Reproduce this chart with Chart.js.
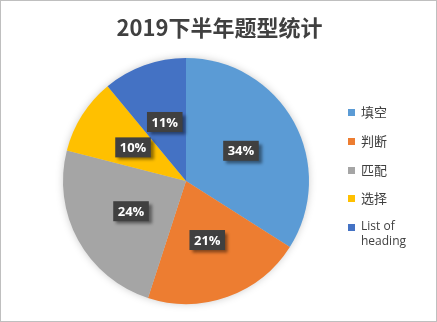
<!DOCTYPE html>
<html>
<head>
<meta charset="utf-8">
<script src="https://cdn.jsdelivr.net/npm/chart.js@4"></script>
<style>
  html, body { margin: 0; padding: 0; background: #fff; }
  #box {
    position: relative; width: 437px; height: 322px;
    box-sizing: border-box; border: 1px solid #bfbfbf; overflow: hidden;
  }
  #chart { position: absolute; left: 0; top: 0; }
  #title {
    position: absolute; left: 0; top: 9px; width: 437px; text-align: center;
    font: bold 22px "Noto Sans CJK SC", sans-serif; color: #404040;
  }
  #legend { position: absolute; left: 347px; top: 100px; width: 80px; }
  .item { position: absolute; left: 0; font: 13px "Noto Sans CJK SC", sans-serif; color: #404040; }
  .item .sw { position: absolute; left: 0; top: 6px; width: 7px; height: 7px; }
  .item .tx { margin-left: 13px; line-height: 17px; width: 62px; display: block; }
  .item .latin { font: 12px "Open Sans", sans-serif; line-height: 15px; }
</style>
</head>
<body>
<div id="box">
  <canvas id="chart" width="437" height="322"></canvas>
  <div id="title">2019下半年题型统计</div>
  <div id="legend"></div>
</div>
<script>
// chart values
const categories = ['填空', '判断', '匹配', '选择', 'List of heading'];
const shares = [34, 21, 24, 10, 11];
const colors = ['#5B9BD5', '#ED7D31', '#A5A5A5', '#FFC000', '#4472C4'];

// legend built from the same arrays
const legendTops = [2, 31, 60, 88, 117];
const legend = document.getElementById('legend');
categories.forEach((name, i) => {
    const item = document.createElement('div');
    item.className = 'item';
    item.style.top = legendTops[i] + 'px';
    const isLatin = /^[\x00-\x7f]+$/.test(name);
    item.innerHTML = '<span class="sw" style="background:' + colors[i] + '"></span>' +
        '<span class="tx' + (isLatin ? ' latin' : '') + '">' + name + '</span>';
    legend.appendChild(item);
});

// soft shadow behind the pie
const pieShadow = {
    id: 'pieShadow',
    beforeDatasetsDraw(chart) {
        const arc = chart.getDatasetMeta(0).data[0];
        if (!arc) return;
        const ctx = chart.ctx;
        ctx.save();
        ctx.shadowColor = 'rgba(0,0,0,0.25)';
        ctx.shadowBlur = 8;
        ctx.beginPath();
        ctx.arc(arc.x, arc.y, arc.outerRadius - 1, 0, Math.PI * 2);
        ctx.fillStyle = '#ccc';
        ctx.fill();
        ctx.restore();
    }
};

// dark boxed percentage labels
const boxLabels = {
    id: 'boxLabels',
    afterDatasetsDraw(chart) {
        const ctx = chart.ctx;
        const meta = chart.getDatasetMeta(0);
        meta.data.forEach((arc, i) => {
            const mid = (arc.startAngle + arc.endAngle) / 2;
            const r = arc.outerRadius * 0.51;
            const x = arc.x + Math.cos(mid) * r;
            const y = arc.y + Math.sin(mid) * r;
            const text = shares[i] + '%';
            ctx.save();
            ctx.font = 'bold 13px "Open Sans", sans-serif';
            const w = ctx.measureText(text).width + 9;
            const h = 20;
            ctx.shadowColor = 'rgba(0,0,0,0.45)';
            ctx.shadowBlur = 3;
            ctx.shadowOffsetX = 3;
            ctx.shadowOffsetY = 3;
            ctx.fillStyle = '#404040';
            ctx.fillRect(x - w / 2, y - h / 2, w, h);
            ctx.shadowColor = 'transparent';
            ctx.fillStyle = '#ffffff';
            ctx.textAlign = 'center';
            ctx.textBaseline = 'middle';
            ctx.fillText(text, x, y + 1);
            ctx.restore();
        });
    }
};

new Chart(document.getElementById('chart'), {
    type: 'pie',
    data: {
        labels: categories,
        datasets: [{
            data: shares,
            backgroundColor: colors,
            borderWidth: 0
        }]
    },
    options: {
        responsive: false,
        animation: false,
        layout: { padding: { left: 62, right: 129, top: 57, bottom: 19 } },
        plugins: {
            legend: { display: false },
            title: { display: false },
            tooltip: { enabled: false }
        }
    },
    plugins: [pieShadow, boxLabels]
});
</script>
</body>
</html>
